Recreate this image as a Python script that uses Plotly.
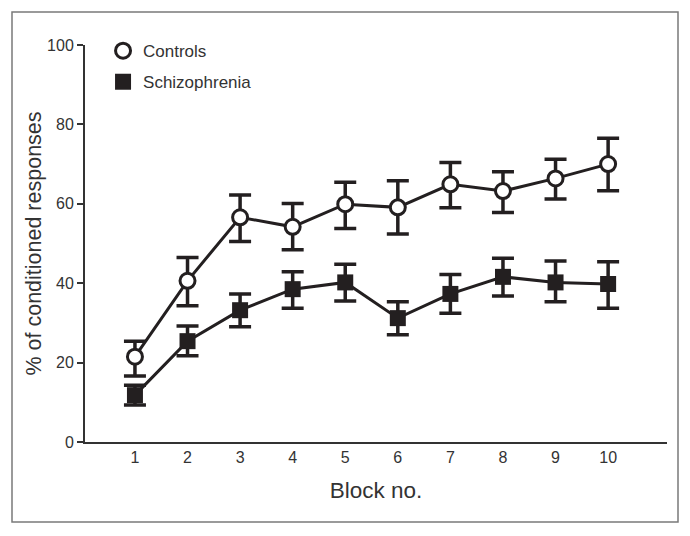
import plotly.graph_objects as go

blocks = [1, 2, 3, 4, 5, 6, 7, 8, 9, 10]
block_labels = ["1", "2", "3", "4", "5", "6", "7", "8", "9", "10"]

controls = [21.5, 40.6, 56.6, 54.2, 59.9, 59.1, 64.9, 63.2, 66.4, 70.0]
controls_upper = [25.4, 46.5, 62.2, 60.1, 65.4, 65.8, 70.4, 68.1, 71.2, 76.5]
controls_lower = [16.6, 34.3, 50.5, 48.4, 53.8, 52.4, 59.0, 57.8, 61.2, 63.3]

schizo = [11.8, 25.4, 33.2, 38.5, 40.2, 31.2, 37.3, 41.6, 40.2, 39.8]
schizo_upper = [14.3, 29.2, 37.3, 42.9, 44.8, 35.3, 42.2, 46.3, 45.6, 45.4]
schizo_lower = [9.3, 21.7, 29.0, 33.7, 35.5, 27.0, 32.4, 36.8, 35.3, 33.7]

ytick_vals = [0, 20, 40, 60, 80, 100]
ytick_text = ["0", "20", "40", "60", "80", "100"]

INK = "#231f20"
AXIS = "#333333"
FONT = "Liberation Sans, Arial, sans-serif"

c_plus = [u - v for u, v in zip(controls_upper, controls)]
c_minus = [v - l for v, l in zip(controls, controls_lower)]
s_plus = [u - v for u, v in zip(schizo_upper, schizo)]
s_minus = [v - l for v, l in zip(schizo, schizo_lower)]

fig = go.Figure()

fig.add_trace(go.Scatter(
    x=blocks, y=schizo, mode="lines+markers", showlegend=False,
    line=dict(color=INK, width=3),
    marker=dict(symbol="square", size=16, color=INK, line=dict(width=0)),
    error_y=dict(type="data", symmetric=False, array=s_plus, arrayminus=s_minus,
                 color=INK, thickness=3.5, width=11),
))
fig.add_trace(go.Scatter(
    x=blocks, y=controls, mode="lines+markers", showlegend=False,
    line=dict(color=INK, width=3),
    marker=dict(symbol="circle", size=15, color="white", line=dict(width=3, color=INK)),
    error_y=dict(type="data", symmetric=False, array=c_plus, arrayminus=c_minus,
                 color=INK, thickness=3.5, width=11),
))

# legend-only entries
fig.add_trace(go.Scatter(
    x=[None], y=[None], mode="markers", name="Controls", legendgroup="c",
    marker=dict(symbol="circle", size=15, color="white", line=dict(width=3, color=INK)),
))
fig.add_trace(go.Scatter(
    x=[None], y=[None], mode="markers", name="Schizophrenia", legendgroup="s",
    marker=dict(symbol="square", size=16, color=INK, line=dict(width=0)),
))

# outer frame (plot area is 582 x 397 px, starting at x=77, y=37 in figure)
fig.add_shape(type="rect", xref="paper", yref="paper",
              x0=(4 - 77) / 582, x1=(670 - 77) / 582,
              y0=(434 - 514) / 397, y1=(434 - 4) / 397,
              line=dict(color="#7a7a7a", width=1.5), fillcolor="rgba(0,0,0,0)")

fig.update_layout(
    width=682, height=528,
    margin=dict(l=77, r=23, t=37, b=94),
    paper_bgcolor="white", plot_bgcolor="white",
    font=dict(family=FONT, color=AXIS, size=16),
    legend=dict(x=0.031, y=1.03, xanchor="left", yanchor="top",
                font=dict(size=17, color=AXIS, family=FONT),
                bgcolor="rgba(0,0,0,0)", traceorder="grouped", tracegroupgap=6,
                itemwidth=30),
    xaxis=dict(
        range=[0.05, 11.12], tickvals=blocks, ticktext=block_labels,
        showline=True, linecolor=AXIS, linewidth=2, ticks="",
        showgrid=False, zeroline=False,
        tickfont=dict(size=16, color=AXIS),
        title=dict(text="Block no.", font=dict(size=22.5, color=AXIS), standoff=17),
    ),
    yaxis=dict(
        range=[0, 100], tickvals=ytick_vals, ticktext=ytick_text,
        showline=True, linecolor=AXIS, linewidth=2, ticks="outside",
        ticklen=6, tickwidth=2, tickcolor=AXIS,
        showgrid=False, zeroline=False,
        tickfont=dict(size=16, color=AXIS),
        title=dict(text="% of conditioned responses", font=dict(size=21.5, color=AXIS), standoff=0),
    ),
)

fig.write_html("out.html")
